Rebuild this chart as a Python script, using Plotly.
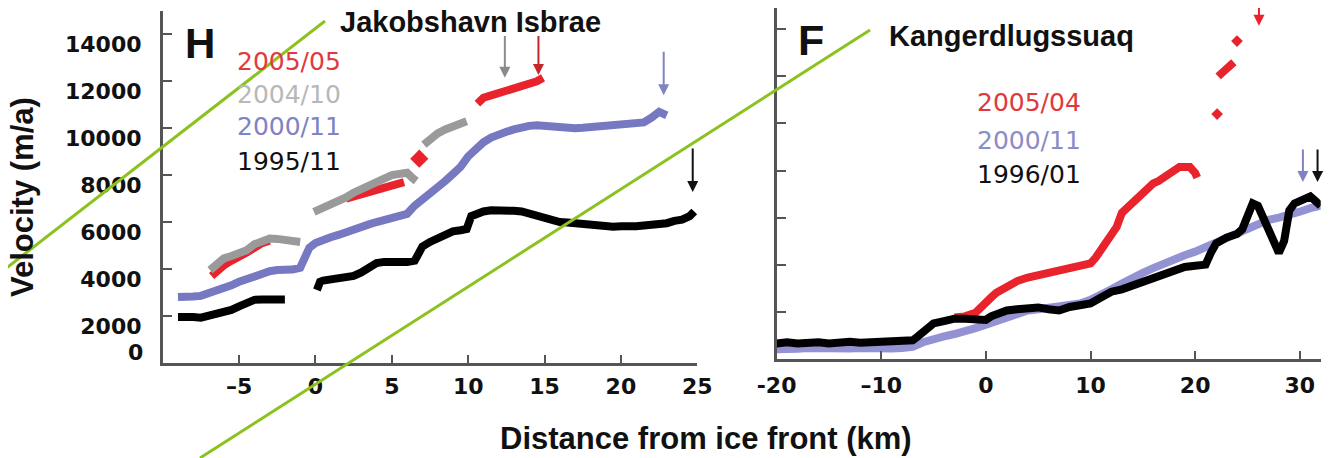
import plotly.graph_objects as go

W, H = 1331, 458
OFF = 8  # the page body has an 8px margin; positions below are page pixels

# ---------------- Jakobshavn Isbrae (panel H) ----------------
jak_1995_x = [-9.0, -8.5, -8.0, -7.5, -7.0, -6.5, -6.0, -5.5, -5.0, -4.5, -4.0, -3.5, -3.0, -2.5, -2.0, None,
              0.1, 0.3, 0.5, 1.0, 1.5, 2.0, 2.5, 3.0, 3.5, 4.0, 4.5, 5.0, 5.5, 6.0, 6.5, 6.8, 7.0, 7.5, 8.0, 8.5,
              9.0, 9.5, 9.9, 10.2, 10.5, 11.0, 11.5, 12.0, 12.5, 13.0, 13.5, 14.0, 14.5, 15.0, 15.5, 16.0, 16.5,
              17.0, 17.5, 18.0, 18.5, 19.0, 19.5, 20.0, 20.5, 21.0, 21.5, 22.0, 22.5, 23.0, 23.5, 24.0, 24.5, 24.8]
jak_1995_v = [1950, 1980, 1950, 1920, 2000, 2050, 2150, 2250, 2400, 2550, 2680, 2700, 2720, 2700, 2700, None,
              3100, 3450, 3500, 3550, 3520, 3580, 3700, 3850, 4050, 4250, 4300, 4280, 4300, 4290, 4350, 4850, 4950,
              5150, 5300, 5450, 5600, 5650, 5700, 6250, 6350, 6450, 6500, 6520, 6500, 6480, 6450, 6350, 6250, 6150,
              6050, 6000, 5980, 5950, 5900, 5850, 5800, 5780, 5800, 5820, 5800, 5820, 5850, 5880, 5900, 5950, 6050,
              6100, 6250, 6450]

jak_2000_x = [-9.0, -8.5, -8.0, -7.5, -7.0, -6.5, -6.0, -5.5, -5.0, -4.5, -4.0, -3.5, -3.0, -2.5, -2.0, -1.5,
              -1.0, -0.7, -0.4, 0.0, 0.5, 1.0, 1.5, 2.0, 2.5, 3.0, 3.5, 4.0, 4.5, 5.0, 5.5, 6.0, 6.5, 7.0, 7.5,
              8.0, 8.5, 9.0, 9.5, 10.0, 10.5, 11.0, 11.5, 12.0, 12.5, 13.0, 13.5, 14.0, 14.5, 15.0, 15.5, 16.0,
              16.5, 17.0, 17.5, 18.0, 18.5, 19.0, 19.5, 20.0, 20.5, 21.0, 21.5, 22.0, 22.5, 23.0]
jak_2000_v = [2800, 2780, 2820, 2850, 2950, 3050, 3200, 3300, 3450, 3580, 3700, 3830, 3900, 3950, 3950, 3970,
              4050, 4400, 4900, 5100, 5250, 5350, 5450, 5580, 5700, 5800, 5900, 6000, 6100, 6200, 6280, 6350,
              6700, 6950, 7150, 7450, 7750, 8050, 8350, 8800, 9150, 9400, 9600, 9750, 9850, 9950, 10050, 10100,
              10130, 10100, 10050, 10020, 10000, 10000, 10020, 10050, 10050, 10050, 10080, 10100, 10120, 10150,
              10250, 10450, 10700, 10550]

jak_2004_x = [-6.9, -6.5, -6.0, -5.5, -5.0, -4.5, -4.0, -3.5, -3.0, -2.5, -2.0, -1.5, -1.0, None,
              -0.1, 0.5, 1.0, 1.5, 2.0, 2.5, 3.0, 3.5, 4.0, 4.5, 5.0, 5.5, 6.0, 6.4, 6.6, None,
              7.1, 7.5, 8.0, 8.5, 9.0, 9.5, 9.9]
jak_2004_v = [3950, 4200, 4450, 4550, 4650, 4800, 5050, 5200, 5300, 5280, 5230, 5200, 5150, None,
              6430, 6600, 6700, 6850, 7050, 7250, 7380, 7550, 7700, 7850, 8000, 8050, 8100, 7850, 7750, None,
              9300, 9550, 9780, 9950, 10100, 10250, 10300]

jak_2005_x = [-6.8, -6.5, -6.0, -5.5, -5.0, -4.5, -4.0, -3.5, -3.0, None,
              2.0, 2.5, 3.0, 3.5, 4.0, 4.5, 5.0, 5.5, 5.8, None,
              10.6, 11.0, 11.5, 12.0, 12.5, 13.0, 13.5, 14.0, 14.5, 14.9]
jak_2005_v = [3700, 3900, 4150, 4350, 4500, 4700, 4900, 5100, 5200, None,
              7000, 7100, 7200, 7300, 7400, 7500, 7550, 7650, 7700, None,
              11050, 11300, 11400, 11500, 11550, 11650, 11750, 11850, 12000, 12150]
jak_2005_dot_x = [6.8]
jak_2005_dot_v = [8700]

# ---------------- Kangerdlugssuaq (panel F) ----------------
kan_1996_x = [-20, -19, -18, -17, -16, -15, -14, -13, -12, -11, -10, -9, -8, -7, -6.5, -6, -5.5, -5, -4, -3,
              -2, -1, -0.5, 0, 0.5, 1, 2, 3, 4, 5, 6, 7, 8, 9, 10, 11, 12, 13, 14, 15, 16, 17, 18, 19, 20, 21,
              21.5, 22, 23, 24, 24.5, 25, 25.5, 26, 26.5, 27, 27.5, 28, 28.5, 29, 29.5, 30, 30.5, 31, 31.5, 32]
kan_1996_v = [650, 700, 650, 680, 700, 650, 700, 720, 680, 700, 690, 720, 700, 780, 950, 1150, 1350, 1500, 1600,
              1700, 1700, 1650, 1600, 1650, 1800, 1900, 2050, 2100, 2150, 2180, 2100, 2050, 2200, 2250, 2350, 2600,
              2850, 2950, 3100, 3300, 3450, 3600, 3750, 3900, 3950, 4000, 4500, 4900, 5150, 5300, 5500, 6000, 6600,
              6500, 6000, 5300, 4800, 4500, 5000, 6300, 6600, 6700, 6850, 6900, 6700, 6500]

kan_2000_x = [-20, -19, -18, -17, -16, -15, -14, -13, -12, -11, -10, -9, -8, -7, -6, -5, -4, -3, -2, -1, 0, 1,
              2, 3, 4, 5, 6, 7, 8, 9, 10, 11, 12, 13, 14, 15, 16, 17, 18, 19, 20, 21, 22, 23, 24, 25, 26, 27, 28,
              29, 30, 31, 32]
kan_2000_v = [400, 450, 420, 450, 430, 400, 450, 430, 450, 420, 400, 430, 450, 500, 700, 850, 950, 1050, 1150,
              1300, 1450, 1600, 1800, 1950, 2050, 2100, 2150, 2200, 2250, 2350, 2500, 2700, 2950, 3200, 3450, 3650,
              3850, 4050, 4200, 4400, 4550, 4750, 4950, 5150, 5350, 5550, 5750, 5900, 6000, 6100, 6250, 6400, 6500]

kan_2005_x = [-3, -2, -1, -0.5, 0, 0.5, 1, 1.5, 2, 3, 4, 5, 6, 7, 8, 9, 10, 10.5, 11, 11.5, 12, 12.5, 13, 13.5,
              14, 14.5, 15, 15.5, 16, 16.5, 17, 17.5, 18, 18.5, 19, 19.5, 20, 20.2, None,
              22.2, 22.7, 23.2, 23.7]
kan_2005_v = [1750, 1800, 1950, 2200, 2400, 2600, 2800, 2950, 3100, 3300, 3450, 3550, 3650, 3720, 3800, 3900,
              4050, 4300, 4600, 5000, 5300, 5600, 6200, 6400, 6650, 6900, 7100, 7300, 7450, 7550, 7700, 7800,
              8000, 8150, 8150, 8150, 7900, 7700, None,
              12000, 12200, 12400, 12600]
kan_2005_dot_x = [22.1, 24.0]
kan_2005_dot_v = [10400, 13500]

y_ticks = [0, 2000, 4000, 6000, 8000, 10000, 12000, 14000]
y_ticktext = ["", "2000", "4000", "6000", "8000", "10000", "12000", "14000"]
jak_xticks = [-5, 0, 5, 10, 15, 20, 25]
jak_xticktext = ["\u20135", "0", "5", "10", "15", "20", "25"]
kan_xticks = [-20, -10, 0, 10, 20, 30]
kan_xticktext = ["-20", "\u201310", "0", "10", "20", "30"]

RED = "#e8232b"
GRAY = "#9a9a9a"
BLUE = "#7678c2"
BLACK = "#000000"
AX = "#555555"


def px(x):
    return (x - OFF) / W


def py(y):
    return 1 - (y - OFF) / H


fig = go.Figure()
LW = 8

# left panel
fig.add_trace(go.Scatter(x=jak_2000_x, y=jak_2000_v, mode="lines", line=dict(color=BLUE, width=LW),
                         xaxis="x", yaxis="y", showlegend=False))
fig.add_trace(go.Scatter(x=jak_1995_x, y=jak_1995_v, mode="lines", line=dict(color=BLACK, width=LW),
                         xaxis="x", yaxis="y", showlegend=False))
fig.add_trace(go.Scatter(x=jak_2005_x, y=jak_2005_v, mode="lines", line=dict(color=RED, width=LW),
                         xaxis="x", yaxis="y", showlegend=False))
fig.add_trace(go.Scatter(x=jak_2004_x, y=jak_2004_v, mode="lines", line=dict(color=GRAY, width=LW),
                         xaxis="x", yaxis="y", showlegend=False))
fig.add_trace(go.Scatter(x=jak_2005_dot_x, y=jak_2005_dot_v, mode="markers",
                         marker=dict(color=RED, size=14, symbol="diamond"),
                         xaxis="x", yaxis="y", showlegend=False))

# right panel
fig.add_trace(go.Scatter(x=kan_2000_x, y=kan_2000_v, mode="lines",
                         line=dict(color="rgba(128,128,205,0.85)", width=LW),
                         xaxis="x2", yaxis="y2", showlegend=False))
fig.add_trace(go.Scatter(x=kan_2005_x, y=kan_2005_v, mode="lines", line=dict(color=RED, width=LW),
                         xaxis="x2", yaxis="y2", showlegend=False))
fig.add_trace(go.Scatter(x=kan_1996_x, y=kan_1996_v, mode="lines", line=dict(color=BLACK, width=LW),
                         xaxis="x2", yaxis="y2", showlegend=False))
fig.add_trace(go.Scatter(x=kan_2005_dot_x, y=kan_2005_dot_v, mode="markers",
                         marker=dict(color=RED, size=9, symbol="diamond"),
                         xaxis="x2", yaxis="y2", showlegend=False))

TICKFONT = dict(family="DejaVu Sans", size=22, color="#111111", weight="bold")
axis_common = dict(showline=True, linecolor=AX, linewidth=2.5, ticks="inside", tickcolor=AX, tickwidth=2,
                   showgrid=False, zeroline=False, tickfont=TICKFONT, mirror=False, automargin=False)

# right panel: axis bottom at page y=358.7, 2000 m/a per 47.05 px; its top is clipped at the page margin
kan_ytop = (358.7 - OFF) / 47.05 * 2000

fig.update_layout(
    width=W, height=H, margin=dict(l=0, r=0, t=0, b=0, pad=0, autoexpand=False),
    plot_bgcolor="white", paper_bgcolor="white",
    xaxis=dict(domain=[px(162.7), px(697.3)], range=[-10, 25], anchor="y",
               tickmode="array", tickvals=jak_xticks, ticktext=jak_xticktext, ticklen=8,
               ticklabelstandoff=2, **axis_common),
    yaxis=dict(domain=[py(362.7), py(11)], range=[0, 15000], anchor="x",
               tickmode="array", tickvals=y_ticks, ticktext=y_ticktext, ticklen=10,
               ticklabelshift=10, ticklabelstandoff=14, **axis_common),
    xaxis2=dict(domain=[px(776.6), px(1320.7)], range=[-20, 32], anchor="y2",
                tickmode="array", tickvals=kan_xticks, ticktext=kan_xticktext, ticklen=8,
                ticklabelstandoff=5, **axis_common),
    yaxis2=dict(domain=[py(358.7), 1.0], range=[0, kan_ytop], anchor="x2",
                tickmode="array", tickvals=y_ticks, showticklabels=False, ticklen=10, **axis_common),
)

ann = []
BOLD = "Liberation Sans"


def text(x, y, s, size, color="#111111", family=BOLD, weight="bold", xanchor="center", angle=0):
    ann.append(dict(x=px(x), y=py(y), xref="paper", yref="paper", text=s, showarrow=False,
                    xanchor=xanchor, yanchor="middle", textangle=angle,
                    font=dict(family=family, size=size, color=color, weight=weight)))


# y tick label "0"
text(145, 352, "0", 22, family="DejaVu Sans", xanchor="right")
# panel letters and titles
text(200, 43, "H", 42)
text(811, 40, "F", 43)
text(338, 22, "Jakobshavn Isbrae", 29, xanchor="left")
text(887, 36, "Kangerdlugssuaq", 29, xanchor="left")
# legends
for s, c, yy in [("2005/05", "#e03a3e", 62), ("2004/10", "#b8b8b8", 94), ("2000/11", "#8082c4", 126),
                 ("1995/11", "#111111", 161)]:
    text(235, yy, s, 25, color=c, family="DejaVu Sans", weight="normal", xanchor="left")
for s, c, yy in [("2005/04", "#e0393a", 103), ("2000/11", "#8c8cc8", 140), ("1996/01", "#111111", 174)]:
    text(975, yy, s, 25, color=c, family="DejaVu Sans", weight="normal", xanchor="left")
# axis titles
text(706, 438, "Distance from ice front (km)", 31)
text(22, 197, "Velocity (m/a)", 31, angle=-90)


def arrow(xr, yr, x, y_head, y_tail, color):
    ann.append(dict(x=x, y=y_head, ax=x, ay=y_tail, xref=xr, yref=yr,
                    axref=xr, ayref=yr, showarrow=True, arrowhead=2, arrowsize=1.1,
                    arrowwidth=2, arrowcolor=color, text=""))


arrow_jak = [(12.4, 12150, 14000, "#8a8a8a"), (14.6, 12270, 14000, "#c8252b"),
             (22.8, 11410, 13330, "#8082c4"), (24.7, 7280, 9200, "#111111")]
for x, yh, yt, c in arrow_jak:
    arrow("x", "y", x, yh, yt, c)
arrow_kan = [(26.1, 14150, 15250, RED), (30.3, 7510, 8960, "#8082c4"), (31.7, 7510, 8960, "#111111"),
             (23.2, -1970, -820, RED)]
for x, yh, yt, c in arrow_kan:
    arrow("x2", "y2", x, yh, yt, c)

fig.update_layout(annotations=ann)

# decorative green strike lines over the figure
GREEN = "#8cc21f"
fig.add_shape(type="line", xref="paper", yref="paper", x0=px(0), y0=py(273), x1=px(325), y1=py(21),
              line=dict(color=GREEN, width=3))
fig.add_shape(type="line", xref="paper", yref="paper", x0=px(200), y0=py(458), x1=px(870), y1=py(30),
              line=dict(color=GREEN, width=3))

fig.write_html("out.html")
